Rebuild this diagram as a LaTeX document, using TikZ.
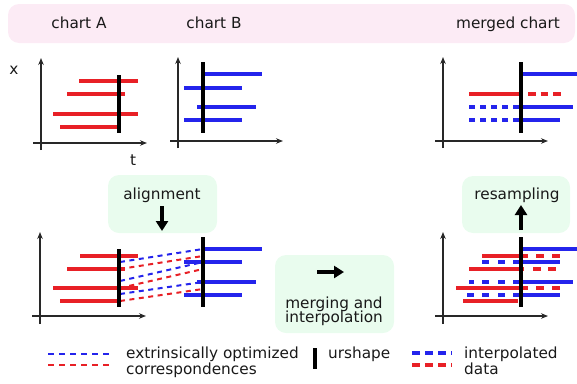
\documentclass[tikz,border=0pt]{standalone}
\usepackage{fontspec}
\setmainfont{DejaVu Sans}
\usetikzlibrary{arrows.meta}
\definecolor{bandpink}{RGB}{252,235,245}
\definecolor{boxgreen}{RGB}{233,252,238}
\definecolor{barred}{RGB}{232,32,38}
\definecolor{barblue}{RGB}{36,36,236}
\definecolor{axisgray}{RGB}{40,40,40}
\definecolor{txt}{RGB}{25,25,25}
\begin{document}
\begin{tikzpicture}[x=1pt,y=-1pt,
  lbl/.style={font=\fontsize{15.3}{15}\selectfont, text=txt, inner sep=0pt},
  axisline/.style={draw=axisgray, line width=1.1pt, -{Stealth[length=7pt,width=5.5pt]}},
  rbar/.style={draw=barred, line width=4pt},
  bbar/.style={draw=barblue, line width=4pt},
  urs/.style={draw=black, line width=4.5pt},
  corr/.style={line width=2pt, dash pattern=on 5pt off 4.5pt},
  thindash/.style={line width=1.6pt, dash pattern=on 6pt off 5pt},
  bigarrow/.style={draw=black, line width=4pt, -{Triangle[length=10pt,width=12pt]}},
  panel/.style={rounded corners=11pt, draw=none}
]
\path[use as bounding box] (0,0) rectangle (577,383);

% header band
\fill[bandpink, panel] (8,4) rectangle (575,43);
\node[lbl, anchor=base] (hA) at (79,28) {chart A};
\node[lbl, anchor=base] (hB) at (214,28) {chart B};
\node[lbl, anchor=base] (hM) at (508,28) {merged chart};

% ---------- top row: chart A ----------
\draw[axisline] (33,143) -- (147,143);
\draw[axisline] (41,150) -- (41,58);
\node[lbl] (xl) at (14,70) {x};
\node[lbl] (tl) at (133,160) {t};
\draw[rbar] (79,81) -- (138,81);
\draw[rbar] (67,94) -- (125,94);
\draw[rbar] (53,114) -- (138,114);
\draw[rbar] (60,127) -- (117,127);
\draw[urs] (119,75) -- (119,133);

% ---------- top row: chart B ----------
\draw[axisline] (170,141) -- (283,141);
\draw[axisline] (178,148) -- (178,57);
\draw[bbar] (204,74) -- (262,74);
\draw[bbar] (184,88) -- (242,88);
\draw[bbar] (197,107) -- (256,107);
\draw[bbar] (184,120) -- (242,120);
\draw[urs] (203,62) -- (203,133);

% ---------- top row: merged chart ----------
\draw[axisline] (435,141) -- (548,141);
\draw[axisline] (443,148) -- (443,57);
\draw[bbar] (521,74) -- (577,74);
\draw[rbar] (469,94) -- (521,94);
\draw[rbar, dash pattern=on 7.5pt off 5pt] (528,94) -- (560.5,94);
\draw[bbar, dash pattern=on 6pt off 5pt] (519,107) -- (469,107);
\draw[bbar] (521,107) -- (573,107);
\draw[bbar, dash pattern=on 6pt off 5pt] (519,120) -- (466,120);
\draw[bbar] (521,120) -- (560,120);
\draw[urs] (521,62) -- (521,133);

% ---------- step boxes ----------
\fill[boxgreen, panel] (108,175) rectangle (217,233);
\node[lbl, anchor=base] (align) at (162,199) {alignment};
\draw[bigarrow] (162,206) -- (162,231);

\fill[boxgreen, panel] (462,176) rectangle (570,233);
\node[lbl, anchor=base] (resamp) at (517,199) {resampling};
\draw[bigarrow] (521,230) -- (521,205);

\fill[boxgreen, panel] (275,255) rectangle (394,333);
\draw[bigarrow] (317,272) -- (344,272);
\node[lbl, anchor=base, align=center] (merge) at (334,308) {merging and};
\node[lbl, anchor=base] (interp) at (334,322) {interpolation};

% ---------- bottom row: chart A with correspondences to chart B ----------
\draw[axisline] (32,316) -- (146,316);
\draw[axisline] (40,324) -- (40,232);

\coordinate (a1) at (120,262); \coordinate (b1) at (203,249);
\coordinate (a2) at (120,281); \coordinate (b2) at (203,262);
\coordinate (a3) at (120,294); \coordinate (b3) at (203,282);
\coordinate (a4) at (120,269); \coordinate (b4) at (203,256);
\coordinate (a5) at (120,288); \coordinate (b5) at (203,269);
\coordinate (a6) at (120,301); \coordinate (b6) at (203,289);
\draw[corr, barblue] (a1) -- (b1);
\draw[corr, barblue] (a2) -- (b2);
\draw[corr, barblue] (a3) -- (b3);
\draw[corr, barred] (a4) -- (b4);
\draw[corr, barred] (a5) -- (b5);
\draw[corr, barred] (a6) -- (b6);

\draw[rbar] (80,256) -- (138,256);
\draw[rbar] (67,269) -- (125,269);
\draw[rbar] (53,288) -- (138,288);
\draw[rbar] (60,301) -- (117,301);
\draw[urs] (119,249) -- (119,307);

\draw[bbar] (204,249) -- (262,249);
\draw[bbar] (184,262) -- (242,262);
\draw[bbar] (197,282) -- (256,282);
\draw[bbar] (184,295) -- (242,295);
\draw[urs] (203,237) -- (203,307);

% ---------- bottom row: resampled merged chart ----------
\draw[axisline] (435,316) -- (548,316);
\draw[axisline] (443,324) -- (443,232);
\draw[bbar] (521,249) -- (577,249);
\draw[rbar] (482,256) -- (521,256);
\draw[rbar, dash pattern=on 8pt off 8pt] (520,256) -- (560,256);
\draw[bbar, dash pattern=on 7pt off 8.5pt] (520,262) -- (482,262);
\draw[bbar] (521,262) -- (560,262);
\draw[rbar] (469,269) -- (524,269);
\draw[rbar, dash pattern=on 7.5pt off 7.5pt] (533,269) -- (556,269);
\draw[bbar, dash pattern=on 7pt off 8.5pt] (520,282) -- (469,282);
\draw[bbar] (521,282) -- (573,282);
\draw[rbar] (456,288) -- (521,288);
\draw[rbar, dash pattern=on 8pt off 8pt] (520,288) -- (560,288);
\draw[bbar, dash pattern=on 7pt off 8.5pt] (520,295) -- (466,295);
\draw[bbar] (521,295) -- (560,295);
\draw[rbar] (463,301) -- (518,301);
\draw[urs] (521,237) -- (521,307);

% ---------- legend ----------
\draw[thindash, barblue] (48,354) -- (113,354);
\draw[thindash, barred] (48,365) -- (113,365);
\node[lbl, anchor=base west] (lg1) at (126,358) {extrinsically optimized};
\node[lbl, anchor=base west] (lg2) at (126,374) {correspondences};
\draw[urs] (315,348) -- (315,369);
\node[lbl, anchor=base west] (lg3) at (328,358) {urshape};
\draw[bbar, dash pattern=on 8pt off 5pt] (412,353) -- (452,353);
\draw[rbar, dash pattern=on 8pt off 5pt] (412,365) -- (452,365);
\node[lbl, anchor=base west] (lg4) at (464,358) {interpolated};
\node[lbl, anchor=base west] (lg5) at (464,374) {data};
\end{tikzpicture}
\end{document}
